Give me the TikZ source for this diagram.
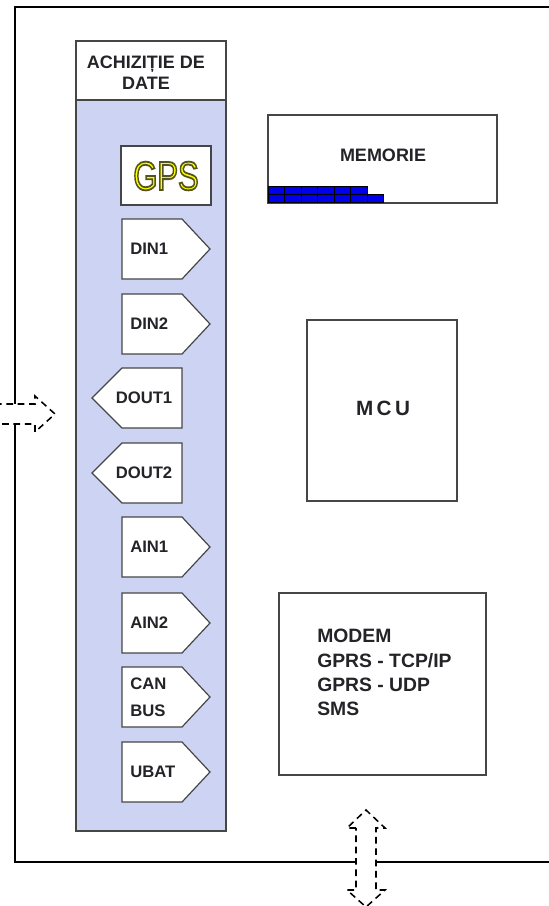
\documentclass[tikz,border=0pt]{standalone}
\usepackage{fontspec}
\setmainfont{Liberation Sans}
\definecolor{colblue}{RGB}{205,211,243}
\definecolor{memblue}{RGB}{0,0,235}
\definecolor{gpsyellow}{RGB}{255,255,0}
\definecolor{linegray}{RGB}{70,70,70}
\definecolor{txt}{RGB}{35,35,40}
\newcommand\pentR[3]{%
  \draw[box] (122,#1) -- (182,#1) -- (210,{#1+30}) -- (182,{#1+60}) -- (122,{#1+60}) -- cycle;
  \node[lbl,anchor=west,align=left] (#2) at (130,{#1+30}) {#3};}
\newcommand\pentL[3]{%
  \draw[box] (182,#1) -- (122,#1) -- (92,{#1+30}) -- (122,{#1+60}) -- (182,{#1+60}) -- cycle;
  \node[lbl] (#2) at (144,{#1+30}) {#3};}
\newcommand\outlinedtext[1]{{\special{pdf:code q 0.33 0.33 0.1 RG 1.3 w 2 Tr}#1\special{pdf:code 0 Tr Q}}}
\begin{document}
\begin{tikzpicture}[x=0.75pt,y=-0.75pt,line join=miter,
  frame/.style={draw=black,line width=1.5pt},
  box/.style={draw=linegray,line width=0.9pt,fill=white},
  lbl/.style={font=\bfseries\fontsize{12.5pt}{20pt}\selectfont,text=txt,inner sep=0pt},
  dasharrow/.style={draw=black,fill=white,line width=1.15pt,dash pattern=on 5pt off 3.5pt},
  blk/.style={draw=black,fill=memblue,line width=0.5pt}]
\useasboundingbox (0,0) rectangle (549,906);
% outer frame
\draw[frame] (560,7) -- (15,7) -- (15,862) -- (560,862);
% acquisition column
\draw[box,fill=colblue] (76,41) rectangle (226,831);
\draw[box] (76,41) rectangle (226,100);
\node[font=\bfseries\fontsize{13.5pt}{15.5pt}\selectfont,text=txt,align=center] (hdr) at (146,73) {ACHIZIȚIE DE\\DATE};
% GPS
\draw[box] (121,146) rectangle (211,205);
\node[text=gpsyellow,inner sep=0pt] (gps) at (166,176) {\scalebox{0.8}[1.05]{\fontsize{29pt}{30pt}\selectfont\outlinedtext{GPS}}};
% signals
\pentR{219}{din1}{DIN1}
\pentR{294}{din2}{DIN2}
\pentL{368}{dout1}{DOUT1}
\pentL{443}{dout2}{DOUT2}
\pentR{517}{ain1}{AIN1}
\pentR{593}{ain2}{AIN2}
\pentR{667}{can}{CAN\\BUS}
\pentR{742}{ubat}{UBAT}
% memory
\draw[box] (268,115) rectangle (497,203);
\node[font=\bfseries\fontsize{13.5pt}{16pt}\selectfont,text=txt] (mem) at (383,155) {MEMORIE};
\foreach \i in {0,...,5} \draw[blk] ({268+\i*16.5},186) rectangle ++(16.5,8);
\foreach \i in {0,...,6} \draw[blk] ({268+\i*16.5},194) rectangle ++(16.5,8);
% MCU
\draw[box] (307,320) rectangle (457,501);
\node[font=\bfseries\fontsize{15.5pt}{18pt}\selectfont,text=txt] (mcu) at (383,408) {M\,C\,U};
% modem
\draw[box] (279,593) rectangle (486,775);
\node[font=\bfseries\fontsize{14.5pt}{18.2pt}\selectfont,text=txt,align=left,anchor=north west,inner sep=0pt] (modem) at (317,629) {MODEM\\GPRS - TCP/IP\\GPRS - UDP\\SMS};
% dashed arrows
\draw[dasharrow] (-5,404) -- (35,404) -- (35,396) -- (55,414) -- (35,432) -- (35,424) -- (-5,424);
\draw[dasharrow] (356,828) -- (347,828) -- (366,810) -- (385,828) -- (376,828) -- (376,890) -- (385,890) -- (366,907) -- (347,890) -- (356,890) -- cycle;
\end{tikzpicture}
\end{document}
